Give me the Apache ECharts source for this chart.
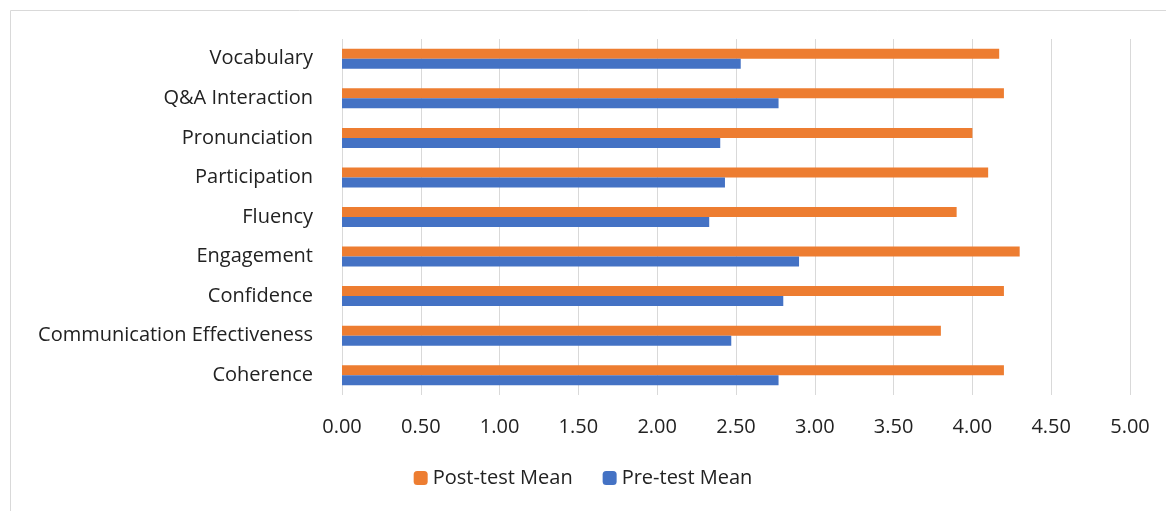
<!DOCTYPE html>
<html>
<head>
<meta charset="utf-8">
<title>Pre/Post test means</title>
<script src="https://cdn.jsdelivr.net/npm/echarts@6/dist/echarts.min.js"></script>
<style>
  html, body { margin: 0; height: 100%; background: #fff; }
  #main { width: 1166px; height: 511px; }
</style>
</head>
<body>
<div id="main"></div>
<script>
var categories = ['Coherence', 'Communication Effectiveness', 'Confidence', 'Engagement',
  'Fluency', 'Participation', 'Pronunciation', 'Q&A Interaction', 'Vocabulary'];
var preMean = [2.77, 2.47, 2.80, 2.90, 2.33, 2.43, 2.40, 2.77, 2.53];
var postMean = [4.20, 3.80, 4.20, 4.30, 3.90, 4.10, 4.00, 4.20, 4.17];

var font = '"Open Sans", Lato, sans-serif';
var chart = echarts.init(document.getElementById('main'));
chart.setOption({
  animation: false,
  textStyle: { fontFamily: font },
  graphic: [{
    type: 'rect', silent: true,
    shape: { x: 10.5, y: 10.5, width: 1170, height: 520 },
    style: { fill: 'none', stroke: '#d9d9d9', lineWidth: 1 }
  }],
  grid: { left: 342, right: 36, top: 39, bottom: 116 },
  legend: {
    data: ['Post-test Mean', 'Pre-test Mean'],
    bottom: 18, left: 'center',
    itemWidth: 14, itemHeight: 14, itemGap: 30,
    textStyle: { fontSize: 20, color: '#222', fontFamily: font }
  },
  xAxis: {
    type: 'value', min: 0, max: 5, interval: 0.5,
    axisLine: { show: false }, axisTick: { show: false },
    splitLine: { lineStyle: { color: '#d9d9d9', width: 1 } },
    axisLabel: {
      fontSize: 20, color: '#222', margin: 22,
      formatter: function (v) { return v.toFixed(2); }
    }
  },
  yAxis: {
    type: 'category', data: categories,
    axisLine: { show: false }, axisTick: { show: false },
    axisLabel: { fontSize: 20, color: '#222', margin: 29, padding: [3, 0, 0, 0] }
  },
  series: [
    { name: 'Post-test Mean', type: 'bar', data: postMean, barWidth: 10, barGap: '0%',
      itemStyle: { color: '#ED7D31' } },
    { name: 'Pre-test Mean', type: 'bar', data: preMean, barWidth: 10, barGap: '0%',
      itemStyle: { color: '#4472C4' } }
  ]
});
</script>
</body>
</html>
